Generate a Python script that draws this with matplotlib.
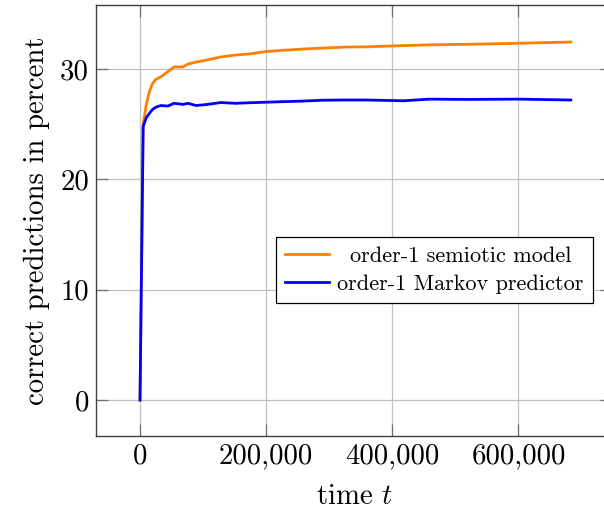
import matplotlib
matplotlib.use('Agg')
import matplotlib.pyplot as plt
from matplotlib.ticker import FuncFormatter

plt.rcParams['font.family'] = 'serif'
plt.rcParams['font.serif'] = ['cmr10', 'DejaVu Serif']
plt.rcParams['mathtext.fontset'] = 'cm'
plt.rcParams['axes.unicode_minus'] = False

# time steps and correct predictions (percent)
t = [0, 5000, 10000, 15000, 20000, 25000, 33000, 44000, 54000, 62000, 68000,
     76000, 89000, 104000, 128000, 152000, 173000, 200000, 226000, 258000,
     289000, 326000, 360000, 400000, 418000, 459000, 520000, 599000, 683000]
semiotic = [0, 25.0, 26.8, 28.0, 28.7, 29.07, 29.3, 29.76, 30.2, 30.2, 30.2,
            30.46, 30.64, 30.8, 31.1, 31.28, 31.37, 31.6, 31.7, 31.82,
            31.9, 32.0, 32.02, 32.1, 32.13, 32.2, 32.25, 32.34, 32.46]
markov = [0, 24.8, 25.6, 26.0, 26.35, 26.55, 26.7, 26.65, 26.9, 26.85, 26.8,
          26.9, 26.7, 26.78, 26.97, 26.9, 26.95, 27.0, 27.05, 27.1,
          27.18, 27.2, 27.2, 27.15, 27.13, 27.28, 27.25, 27.28, 27.2]

xticks = [0, 200000, 400000, 600000]
yticks = [0, 10, 20, 30]

fig = plt.figure(figsize=(6.04, 5.13), dpi=100)
ax = fig.add_axes([0.159, 0.150, 0.855, 0.840])

ax.plot(t, semiotic, color='#ff7f00', lw=2, label='order-1 semiotic model')
ax.plot(t, markov, color='#0000ff', lw=2, label='order-1 Markov predictor')

ax.set_xlim(-69700, 749000)
ax.set_ylim(-3.26, 35.8)
ax.set_xticks(xticks)
ax.set_yticks(yticks)
ax.xaxis.set_major_formatter(FuncFormatter(lambda v, p: f'{v:,.0f}'))
ax.grid(True, color='#c0c0c0', lw=0.9)
ax.set_axisbelow(True)
ax.tick_params(direction='in', length=8.5, width=0.9, color='#707070',
               labelsize=20.7, pad=5, top=True, right=True)
for s in ax.spines.values():
    s.set_linewidth(1.0)
    s.set_color('#404040')

ax.set_xlabel('time $t$', fontsize=20.7, labelpad=10)
ax.set_ylabel('correct predictions in percent', fontsize=20.7, labelpad=7)

leg = ax.legend(loc='center right', bbox_to_anchor=(0.962, 0.385), fontsize=16,
                fancybox=False, framealpha=1, edgecolor='black',
                handlelength=2.0, handletextpad=0.35, borderpad=0.42,
                labelspacing=0.38, borderaxespad=0)
leg.get_frame().set_linewidth(0.9)

# center the legend texts like pgfplots does
fig.canvas.draw()
r = fig.canvas.get_renderer()
texts = leg.get_texts()
widths = [tx.get_window_extent(r).width for tx in texts]
wmax = max(widths)
for tx, w in zip(texts, widths):
    tx.set_x((wmax - w) / 2)

fig.savefig('out.png', dpi=100)
